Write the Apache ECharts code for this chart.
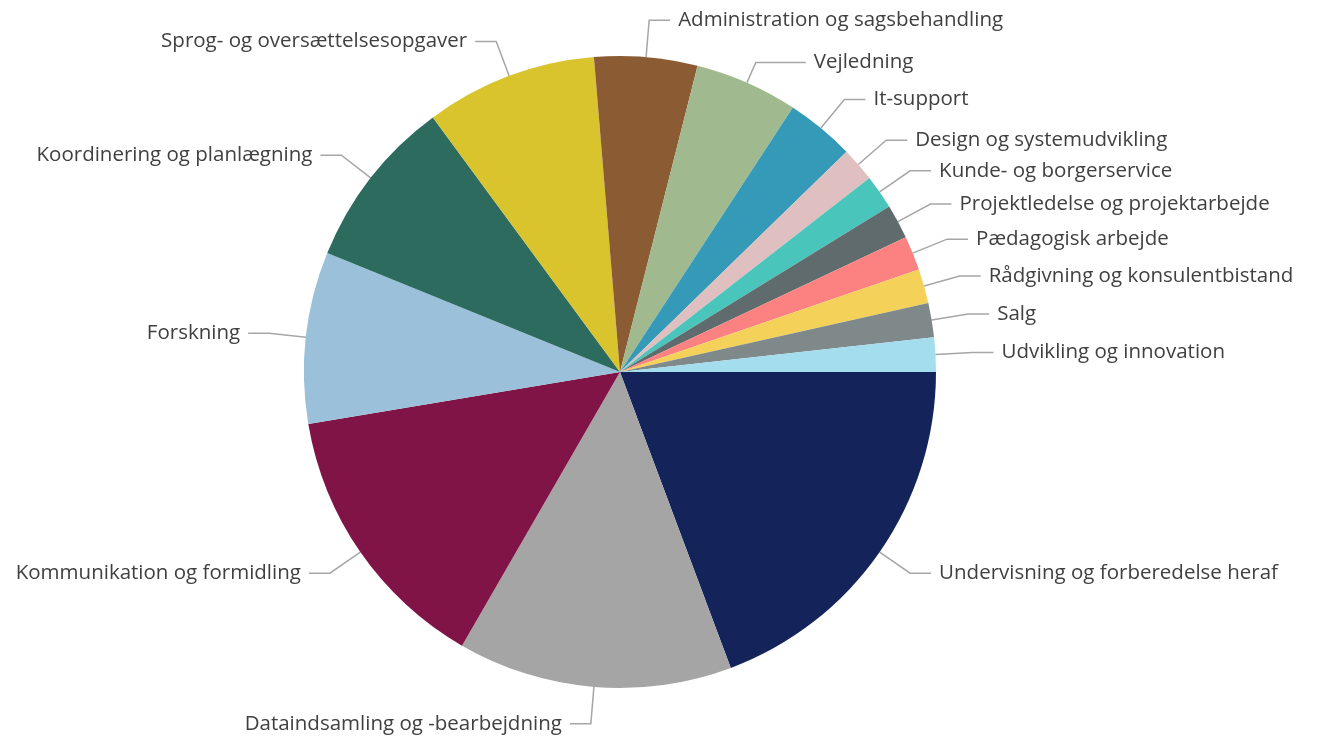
<!DOCTYPE html>
<html>
<head>
    <meta charset="utf-8">
    <script type="text/javascript" src="https://cdn.jsdelivr.net/npm/echarts@6/dist/echarts.min.js"></script>
    <style type="text/css">
        * {
            margin: 0;
            padding: 0;
        }
        html, body {
            background: #ffffff;
        }
        #container {
            width: 1318px;
            height: 745px;
        }
    </style>
</head>
<body>
<div id="container"></div>

<script type="text/javascript">

    //kategorier (med uret fra kl. 3)
    var categories = [
        'Undervisning og forberedelse heraf',
        'Dataindsamling og -bearbejdning',
        'Kommunikation og formidling',
        'Forskning',
        'Koordinering og planlægning',
        'Sprog- og oversættelsesopgaver',
        'Administration og sagsbehandling',
        'Vejledning',
        'It-support',
        'Design og systemudvikling',
        'Kunde- og borgerservice',
        'Projektledelse og projektarbejde',
        'Pædagogisk arbejde',
        'Rådgivning og konsulentbistand',
        'Salg',
        'Udvikling og innovation'
    ];
    //antal
    var counts = [11, 8, 8, 5, 5, 5, 3, 3, 2, 1, 1, 1, 1, 1, 1, 1];
    //farver
    var colors = [
        '#14245a', '#a5a5a5', '#801447', '#9bc0da', '#2e6b5f', '#d9c42d',
        '#8b5c33', '#a0b98f', '#3599b8', '#dfbfbf', '#4ac5bb', '#5f6b6d',
        '#fb8281', '#f4d25a', '#7f898a', '#a4ddee'
    ];

    var pieData = [];
    for (var i = 0; i < categories.length; i++) {
        var item = {
            name: categories[i],
            value: counts[i],
            itemStyle: {color: colors[i]}
        };
        //Vejledning er skubbet lidt ned i forlaegget
        if (categories[i] == 'Vejledning') {
            item.labelLine = {length: 22, length2: 50};
        }
        pieData.push(item);
    }

    var myChart = echarts.init(document.getElementById('container'));
    var option = {
        animation: false,
        series: [
            {
                type: 'pie',
                center: [620, 372],
                radius: 316,
                startAngle: 0,
                clockwise: true,
                avoidLabelOverlap: false,
                itemStyle: {
                    borderWidth: 0
                },
                label: {
                    show: true,
                    position: 'outside',
                    color: '#404040',
                    fontSize: 20.5,
                    fontFamily: 'Open Sans',
                    distanceToLabelLine: 8,
                    overflow: 'none'
                },
                labelLine: {
                    show: true,
                    length: 37,
                    length2: 21,
                    smooth: false,
                    lineStyle: {
                        color: '#a6a6a6',
                        width: 1.5
                    }
                },
                emphasis: {disabled: true},
                data: pieData
            }
        ]
    };
    myChart.setOption(option);

</script>
</body>
</html>
